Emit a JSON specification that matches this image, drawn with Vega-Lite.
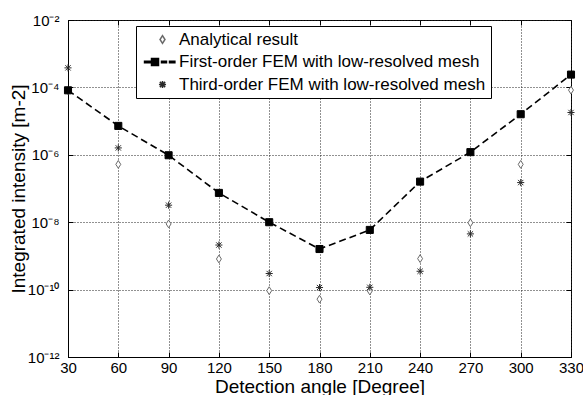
{
  "$schema": "https://vega.github.io/schema/vega-lite/v6.json",
  "width": 503,
  "height": 337,
  "autosize": {"type": "none"},
  "padding": {"left": 68, "top": 20, "right": 12, "bottom": 38},
  "background": "white",
  "config": {
    "font": "Liberation Sans",
    "view": {"stroke": "black", "strokeWidth": 1},
    "axis": {
      "domainColor": "black",
      "tickColor": "black",
      "labelColor": "black",
      "titleColor": "black",
      "titleFontWeight": "normal",
      "labelFont": "Liberation Sans",
      "titleFont": "Liberation Sans"
    },
    "legend": {
      "orient": "none", "legendX": 68, "legendY": 6,
      "direction": "vertical", "columns": 1,
      "labelFontSize": 17, "labelFont": "Liberation Sans", "labelColor": "black", "labelLimit": 0,
      "strokeColor": "black", "fillColor": "white",
      "padding": 5, "rowPadding": 4.5,
      "symbolSize": 50, "symbolOffset": 13, "labelOffset": 8, "symbolOpacity": 1
    }
  },
  "data": {
    "values": [
      {"angle": 30, "series": "Analytical result", "value": 8e-5},
      {"angle": 60, "series": "Analytical result", "value": 5.2e-7},
      {"angle": 90, "series": "Analytical result", "value": 8.9e-9},
      {"angle": 120, "series": "Analytical result", "value": 8.1e-10},
      {"angle": 150, "series": "Analytical result", "value": 9.3e-11},
      {"angle": 180, "series": "Analytical result", "value": 5.2e-11},
      {"angle": 210, "series": "Analytical result", "value": 9.1e-11},
      {"angle": 240, "series": "Analytical result", "value": 8.3e-10},
      {"angle": 270, "series": "Analytical result", "value": 9.6e-9},
      {"angle": 300, "series": "Analytical result", "value": 5.2e-7},
      {"angle": 330, "series": "Analytical result", "value": 8.3e-5},
      {"angle": 30, "series": "First-order FEM with low-resolved mesh", "value": 8.2e-5},
      {"angle": 60, "series": "First-order FEM with low-resolved mesh", "value": 7.2e-6},
      {"angle": 90, "series": "First-order FEM with low-resolved mesh", "value": 9.7e-7},
      {"angle": 120, "series": "First-order FEM with low-resolved mesh", "value": 7.4e-8},
      {"angle": 150, "series": "First-order FEM with low-resolved mesh", "value": 1.0e-8},
      {"angle": 180, "series": "First-order FEM with low-resolved mesh", "value": 1.6e-9},
      {"angle": 210, "series": "First-order FEM with low-resolved mesh", "value": 5.9e-9},
      {"angle": 240, "series": "First-order FEM with low-resolved mesh", "value": 1.6e-7},
      {"angle": 270, "series": "First-order FEM with low-resolved mesh", "value": 1.2e-6},
      {"angle": 300, "series": "First-order FEM with low-resolved mesh", "value": 1.6e-5},
      {"angle": 330, "series": "First-order FEM with low-resolved mesh", "value": 2.4e-4},
      {"angle": 30, "series": "Third-order FEM with low-resolved mesh", "value": 3.8e-4},
      {"angle": 60, "series": "Third-order FEM with low-resolved mesh", "value": 1.6e-6},
      {"angle": 90, "series": "Third-order FEM with low-resolved mesh", "value": 3.2e-8},
      {"angle": 120, "series": "Third-order FEM with low-resolved mesh", "value": 2.1e-9},
      {"angle": 150, "series": "Third-order FEM with low-resolved mesh", "value": 3.0e-10},
      {"angle": 180, "series": "Third-order FEM with low-resolved mesh", "value": 1.15e-10},
      {"angle": 210, "series": "Third-order FEM with low-resolved mesh", "value": 1.17e-10},
      {"angle": 240, "series": "Third-order FEM with low-resolved mesh", "value": 3.5e-10},
      {"angle": 270, "series": "Third-order FEM with low-resolved mesh", "value": 4.5e-9},
      {"angle": 300, "series": "Third-order FEM with low-resolved mesh", "value": 1.5e-7},
      {"angle": 330, "series": "Third-order FEM with low-resolved mesh", "value": 1.8e-5}
    ]
  },
  "layer": [
    {
      "transform": [{"filter": "datum.series == 'First-order FEM with low-resolved mesh'"}],
      "mark": {"type": "line", "color": "black", "strokeWidth": 1.6, "strokeDash": [7, 4]},
      "encoding": {
        "x": {
          "field": "angle", "type": "quantitative",
          "scale": {"domain": [30, 330], "nice": false, "zero": false},
          "axis": {
            "orient": "bottom",
            "values": [30, 60, 90, 120, 150, 180, 210, 240, 270, 300, 330],
            "title": "Detection angle [Degree]",
            "titleFontSize": 19, "titlePadding": 2,
            "labelFontSize": 15, "labelPadding": 8, "labelFlush": false,
            "tickSize": -5,
            "grid": true, "gridColor": "#222", "gridDash": [1, 2], "gridWidth": 1
          }
        },
        "y": {
          "field": "value", "type": "quantitative",
          "scale": {"type": "log", "domain": [1e-12, 1e-2], "nice": false},
          "axis": {
            "orient": "left",
            "values": [1e-12, 1e-10, 1e-8, 1e-6, 1e-4, 1e-2],
            "labelExpr": "'10' + (datum.value < 5e-12 ? '⁻¹²' : datum.value < 5e-10 ? '⁻¹⁰' : datum.value < 5e-8 ? '⁻⁸' : datum.value < 5e-6 ? '⁻⁶' : datum.value < 5e-4 ? '⁻⁴' : '⁻²')",
            "title": "Integrated intensity [m-2]",
            "titleFontSize": 19, "titlePadding": -1,
            "labelFontSize": 15, "labelPadding": 14,
            "tickSize": -5,
            "grid": true, "gridColor": "#222", "gridDash": [1, 2], "gridWidth": 1
          }
        }
      }
    },
    {
      "mark": {"type": "point", "filled": true, "size": 50, "strokeWidth": 1, "opacity": 1},
      "encoding": {
        "x": {"field": "angle", "type": "quantitative", "axis": null},
        "y": {"field": "value", "type": "quantitative", "axis": null},
        "shape": {
          "field": "series", "type": "nominal",
          "scale": {
            "domain": ["Analytical result", "First-order FEM with low-resolved mesh", "Third-order FEM with low-resolved mesh"],
            "range": ["M0,-1.1L0.7,0L0,1.1L-0.7,0Z", "square", "M0,-1V1M-0.75,-0.75L0.75,0.75M-0.75,0.75L0.75,-0.75M-1,0H1"]
          },
          "legend": null
        },
        "fill": {
          "field": "series", "type": "nominal",
          "scale": {
            "domain": ["Analytical result", "First-order FEM with low-resolved mesh", "Third-order FEM with low-resolved mesh"],
            "range": ["white", "black", "white"]
          },
          "legend": null
        },
        "stroke": {
          "field": "series", "type": "nominal",
          "scale": {
            "domain": ["Analytical result", "First-order FEM with low-resolved mesh", "Third-order FEM with low-resolved mesh"],
            "range": ["#6a6a6a", "black", "#2a2a2a"]
          },
          "legend": null
        }
      }
    },
    {
      "transform": [{"filter": "datum.angle < 0"}],
      "mark": {"type": "point", "filled": true, "size": 50, "strokeWidth": 1, "opacity": 1},
      "encoding": {
        "x": {"field": "angle", "type": "quantitative", "axis": null},
        "y": {"field": "value", "type": "quantitative", "axis": null},
        "shape": {
          "field": "series", "type": "nominal",
          "scale": {
            "domain": ["Analytical result", "First-order FEM with low-resolved mesh", "Third-order FEM with low-resolved mesh"],
            "range": ["M0,-1.1L0.7,0L0,1.1L-0.7,0Z", "M-5.08,-0.21H-3.39V0.21H-5.08Z M-3.11,-0.99H-1.13V0.99H-3.11Z M-0.28,-0.21H1.13V0.21H-0.28Z M1.98,-0.21H3.5V0.21H1.98Z", "M0,-1V1M-0.75,-0.75L0.75,0.75M-0.75,0.75L0.75,-0.75M-1,0H1"]
          },
          "legend": {"title": null}
        },
        "fill": {
          "field": "series", "type": "nominal",
          "scale": {
            "domain": ["Analytical result", "First-order FEM with low-resolved mesh", "Third-order FEM with low-resolved mesh"],
            "range": ["white", "black", "white"]
          },
          "legend": {"title": null}
        },
        "stroke": {
          "field": "series", "type": "nominal",
          "scale": {
            "domain": ["Analytical result", "First-order FEM with low-resolved mesh", "Third-order FEM with low-resolved mesh"],
            "range": ["#6a6a6a", "black", "#2a2a2a"]
          },
          "legend": {"title": null}
        }
      }
    },
    {
      "mark": {"type": "point", "opacity": 0},
      "encoding": {
        "x": {
          "field": "angle", "type": "quantitative",
          "axis": {"orient": "top", "values": [30, 60, 90, 120, 150, 180, 210, 240, 270, 300, 330], "labels": false, "title": null, "tickSize": -5, "grid": false, "domain": false}
        },
        "y": {
          "field": "value", "type": "quantitative",
          "axis": {"orient": "right", "values": [1e-12, 1e-10, 1e-8, 1e-6, 1e-4, 1e-2], "labels": false, "title": null, "tickSize": -5, "grid": false, "domain": false}
        }
      }
    }
  ],
  "resolve": {
    "axis": {"x": "independent", "y": "independent"},
    "scale": {"shape": "independent", "fill": "independent", "stroke": "independent"}
  }
}
